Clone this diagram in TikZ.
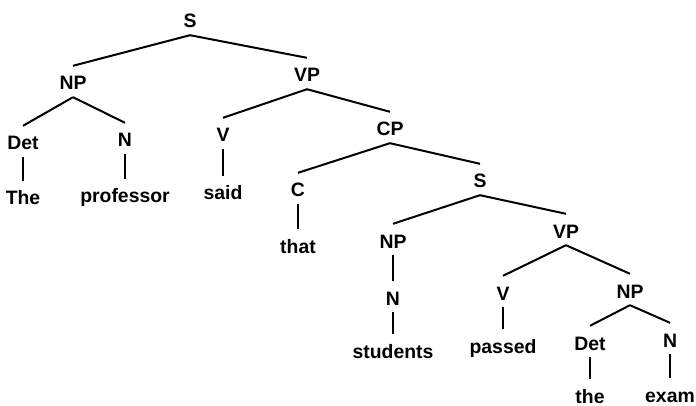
\documentclass[tikz,border=0pt]{standalone}
\usepackage{fontspec}
\setmainfont{Liberation Sans}
\usetikzlibrary{calc}

\tikzset{
  lab/.style={font=\fontsize{19.4}{21}\selectfont\bfseries, inner sep=0, anchor=base,
              text height=24pt, text depth=7pt},
  branch/.style={black, line width=2pt}
}

\begin{document}
\begin{tikzpicture}[x=1pt,y=-1pt]
\useasboundingbox (0,0) rectangle (696,406);
% labels, placed on their baselines
\node[lab] (s)      at (190,28)  {S};
\node[lab] (np)     at (73,90)   {NP};
\node[lab] (vp)     at (307,82)  {VP};
\node[lab] (det)    at (23,150)  {Det};
\node[lab] (n)      at (125,147) {N};
\node[lab] (v)      at (223,142) {V};
\node[lab] (cp)     at (390,136) {CP};
\node[lab] (the)    at (23,205)  {The};
\node[lab] (prof)   at (125,203) {professor};
\node[lab] (said)   at (223,200) {said};
\node[lab] (c)      at (298,197) {C};
\node[lab] (s2)     at (480,188) {S};
\node[lab] (that)   at (298,253) {that};
\node[lab] (np2)    at (393,248) {NP};
\node[lab] (vp2)    at (566,238) {VP};
\node[lab] (n2)     at (393,305) {N};
\node[lab] (v2)     at (503,300) {V};
\node[lab] (np3)    at (630,298) {NP};
\node[lab] (stud)   at (393,358) {students};
\node[lab] (passed) at (503,353) {passed};
\node[lab] (det3)   at (590,350) {Det};
\node[lab] (n3)     at (670,347) {N};
\node[lab] (the3)   at (590,403) {the};
\node[lab] (exam)   at (670,402) {exam};
% branches
\foreach \a/\b in {s/np, s/vp, np/det, np/n, det/the, n/prof, vp/v, vp/cp, v/said,
                   cp/c, cp/s2, c/that, s2/np2, s2/vp2, np2/n2, n2/stud, vp2/v2, vp2/np3,
                   v2/passed, np3/det3, np3/n3, det3/the3, n3/exam}
  \draw[branch] (\a.south) -- (\b.north);
\end{tikzpicture}
\end{document}
